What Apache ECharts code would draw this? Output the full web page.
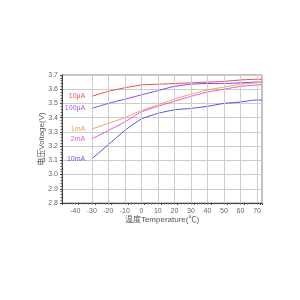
<!DOCTYPE html>
<html><head><meta charset="utf-8">
<script src="https://cdn.jsdelivr.net/npm/echarts@6/dist/echarts.min.js"></script>
<style>html,body{margin:0;padding:0;background:#fff}#c{width:300px;height:300px}</style>
</head><body><div id="c"></div>
<script>
const temps = [-30,-20,-10,0,10,20,30,40,50,60,70,73];
const seriesNames = ['10μA','100μA','1mA','2mA','10mA'];
const v10uA  = [3.55,3.585,3.61,3.63,3.635,3.64,3.645,3.65,3.655,3.665,3.67,3.67];
const v100uA = [3.465,3.50,3.53,3.56,3.59,3.62,3.635,3.64,3.64,3.645,3.65,3.65];
const v1mA   = [3.32,3.36,3.40,3.45,3.49,3.53,3.565,3.595,3.615,3.635,3.645,3.648];
const v2mA   = [3.25,3.31,3.37,3.44,3.48,3.515,3.55,3.58,3.60,3.62,3.63,3.632];
const v10mA  = [3.11,3.21,3.31,3.39,3.43,3.455,3.465,3.48,3.50,3.51,3.525,3.522];
const xTickLabels = [-40,-30,-20,-10,0,10,20,30,40,50,60,70];
const xGridLines = [-30,-20,-10,0,10,20,30,40,50,60,70];
const colors = ['#e04848','#7a44e8','#f0a050','#e550e0','#5050e0'];
const labelColors = ['#e03030','#7a38f0','#f08a28','#e030e0','#3a3ae8'];
const values = [v10uA,v100uA,v1mA,v2mA,v10mA];
const font = 'Liberation Sans, Noto Sans CJK SC';
const series = [{
  type:'line', data:[], silent:true,
  markLine:{silent:true, symbol:'none', label:{show:false},
    lineStyle:{color:'#ccc', width:1, type:'solid'},
    data: xGridLines.map(x=>({xAxis:x}))}
}];
values.forEach((vals,i)=>{
  series.push({
    name: seriesNames[i], type:'line', symbol:'none', smooth:0.2,
    lineStyle:{color:colors[i], width:1},
    data: vals.map((v,j)=>[temps[j], v])
  });
  series.push({
    name: seriesNames[i]+'_label', type:'scatter', symbolSize:1,
    itemStyle:{color:'rgba(0,0,0,0)'},
    label:{show:true, position:'left', distance:6, formatter:seriesNames[i], color:labelColors[i], fontSize:7, fontFamily:font},
    labelLayout:{hideOverlap:false},
    data:[[temps[0], vals[0]]]
  });
});
const chart = echarts.init(document.getElementById('c'));
chart.setOption({
  animation:false,
  grid:{left:62,right:38,top:75,bottom:97},
  xAxis:{type:'value', min:-48, max:73, interval:10,
    name:'温度Temperature(℃)', nameLocation:'middle', nameGap:13, nameMoveOverlap:false,
    nameTextStyle:{fontSize:8,color:'#555',fontFamily:font},
    axisLine:{onZero:false,lineStyle:{color:'#444'}},
    axisTick:{show:true,length:2,lineStyle:{color:'#444'}},
    minorTick:{show:true,splitNumber:5,length:1.5,lineStyle:{color:'#666'}},
    axisLabel:{fontSize:7,color:'#666',margin:5,fontFamily:font,
      customValues:xTickLabels},
    splitLine:{show:false}
  },
  yAxis:{type:'value', min:2.8, max:3.7, interval:0.1,
    name:'电压Voltage(V)', nameLocation:'middle', nameGap:16, nameRotate:90, nameMoveOverlap:false,
    nameTextStyle:{fontSize:8,color:'#555',fontFamily:font},
    axisLine:{show:true,onZero:false,lineStyle:{color:'#444'}},
    axisTick:{show:true,length:2,lineStyle:{color:'#444'}},
    minorTick:{show:true,splitNumber:5,length:1.5,lineStyle:{color:'#666'}},
    axisLabel:{fontSize:7,color:'#666',margin:4,fontFamily:font,formatter:v=>v.toFixed(1)},
    splitLine:{show:true,lineStyle:{color:'#ccc',width:1}}
  },
  graphic:[{type:'rect',shape:{x:62,y:75,width:200,height:128},style:{fill:'none',stroke:'#888',lineWidth:1},silent:true}],
  series
});
</script></body></html>
